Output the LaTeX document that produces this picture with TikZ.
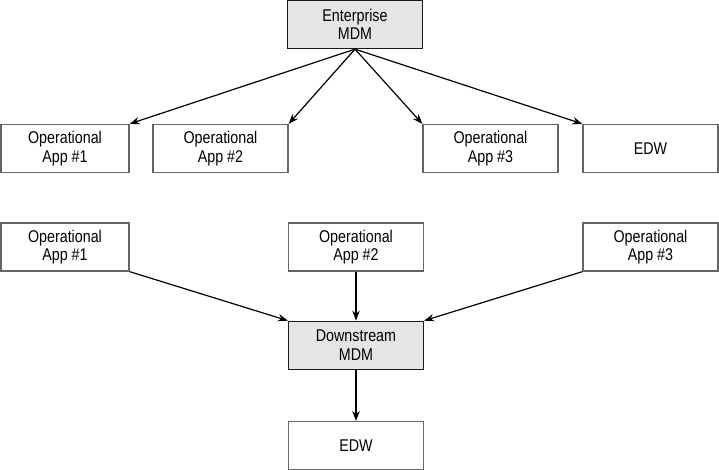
\documentclass[tikz,border=0pt]{standalone}
\usepackage{fontspec}
\setmainfont{Liberation Sans}[FakeStretch=0.84]
\usetikzlibrary{arrows.meta,positioning}
\tikzset{
  link/.style={-{Stealth[length=10pt,width=7.5pt]}, line width=1.2pt, draw=black},
  app/.style={draw=black!60, line width=1.3pt, rectangle, minimum width=135pt, minimum height=48pt, align=center, font=\fontsize{17}{18.5}\selectfont, fill=white},
  hub/.style={app, draw=black!90, fill=black!10}
}

\begin{document}
\begin{tikzpicture}[x=1pt,y=1pt]
  \useasboundingbox (0,0) rectangle (719,-469);
  % enterprise hub feeding the apps
  \node[hub] (ent) at (355,-24.5) {Enterprise\\MDM};
  \node[app, minimum width=128pt] (opa) at (65,-148.5) {Operational\\App \#1};
  \node[app] (opb) at (220.5,-148.5) {Operational\\App \#2};
  \node[app] (opc) at (490.5,-148.5) {Operational\\App \#3};
  \node[app] (edwa) at (650.5,-148.5) {EDW};
  \draw[link] (ent.south) -- (opa.north east);
  \draw[link] (ent.south) -- (opb.north east);
  \draw[link] (ent.south) -- (opc.north west);
  \draw[link] (ent.south) -- (edwa.north west);
  % apps feeding the downstream hub
  \node[app, minimum width=128pt] (opd) at (65,-247) {Operational\\App \#1};
  \node[app] (ope) at (356,-247) {Operational\\App \#2};
  \node[app] (opf) at (650.5,-247) {Operational\\App \#3};
  \node[hub, below=49pt of ope] (down) {Downstream\\MDM};
  \node[app, below=51pt of down] (edwb) {EDW};
  \draw[link] (opd.south east) -- (down.north west);
  \draw[link] (ope) -- (down);
  \draw[link] (opf.south west) -- (down.north east);
  \draw[link] (down) -- (edwb);
\end{tikzpicture}
\end{document}
